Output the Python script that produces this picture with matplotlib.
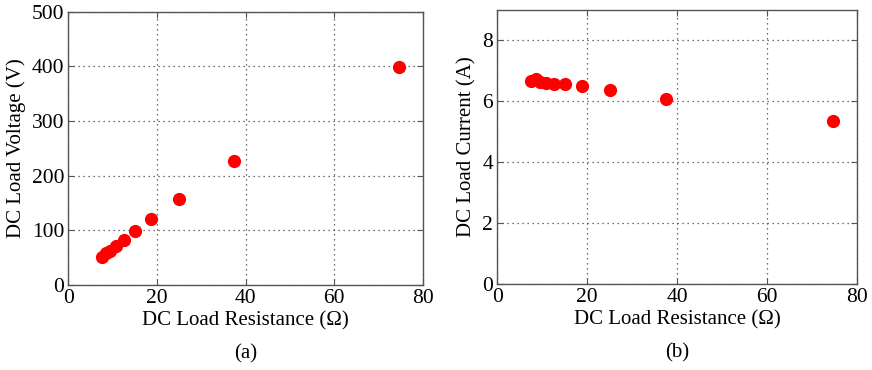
import matplotlib
matplotlib.use("Agg")
import matplotlib.pyplot as plt

# resistance (ohm), voltage (V), current (A)
resistance = [74.5, 37.4, 25, 18.75, 15.1, 12.6, 10.8, 9.5, 8.5, 7.6]
voltage = [398, 226, 157, 121, 99, 83, 71, 63, 58, 51]
current = [5.35, 6.09, 6.37, 6.51, 6.56, 6.58, 6.61, 6.65, 6.72, 6.68]

plt.rcParams['font.family'] = ['Liberation Serif', 'DejaVu Serif']

fig = plt.figure(figsize=(8.72, 3.70), dpi=100)
ax1 = fig.add_axes([0.0783, 0.2297, 0.4068, 0.7386])
ax2 = fig.add_axes([0.5703, 0.2324, 0.4128, 0.7405])


def style(ax):
    ax.grid(True, linestyle=(0, (1, 3)), color='#444444', linewidth=0.9)
    ax.tick_params(direction='in', top=True, right=True, length=4,
                   color='#555555', labelsize=15.5, pad=3)
    for s in ax.spines.values():
        s.set_color('#555555')
        s.set_linewidth(1.0)
    ax.set_xlim(0, 80)
    ax.set_xticks([0, 20, 40, 60, 80])


ax1.plot(resistance, voltage, 'o', color='#ff0000', markersize=8.5, zorder=3)
style(ax1)
ax1.set_ylim(0, 500)
ax1.set_yticks([0, 100, 200, 300, 400, 500])
ax1.set_xlabel(u"DC Load Resistance (\u03a9)", fontsize=15, labelpad=2)
ax1.set_ylabel("DC Load Voltage (V)", fontsize=15, labelpad=4)
ax1.text(0.5, -0.253, "(a)", transform=ax1.transAxes, ha='center', va='center', fontsize=15)

ax2.plot(resistance, current, 'o', color='#ff0000', markersize=8.5, zorder=3)
style(ax2)
ax2.set_ylim(0, 9)
ax2.set_yticks([0, 2, 4, 6, 8])
ax2.set_xlabel(u"DC Load Resistance (\u03a9)", fontsize=15, labelpad=2)
ax2.set_ylabel("DC Load Current (A)", fontsize=15, labelpad=4)
ax2.text(0.5, -0.253, "(b)", transform=ax2.transAxes, ha='center', va='center', fontsize=15)

fig.savefig("out.png", dpi=100)
